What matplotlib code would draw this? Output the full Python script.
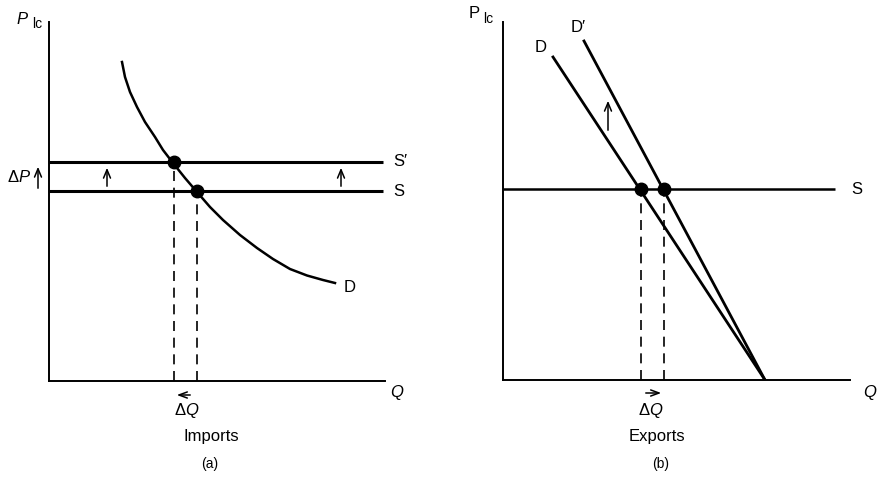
import matplotlib
matplotlib.use("Agg")
import matplotlib.pyplot as plt

plt.rcParams['font.family'] = ['Liberation Sans', 'DejaVu Sans']
plt.rcParams['mathtext.fontset'] = 'custom'
plt.rcParams['mathtext.rm'] = 'Liberation Sans'
plt.rcParams['mathtext.it'] = 'Liberation Sans:italic'

# panel (a): imports (Q right, P up)
a_supply_P = 190
a_supply2_P = 219
a_supply_Q = [0, 334]
a_dem_Q = [73, 76, 81, 88, 96, 106, 114, 124, 136, 148, 161, 174, 191, 208, 224, 241, 258, 274, 286]
a_dem_P = [319, 304, 289, 274, 259, 244, 231, 218, 203, 189, 174, 161, 146, 133, 122, 112, 105.5, 101, 98]
a_eq_Q = [125, 148]
a_eq_P = [219, 190]

# panel (b): exports
b_supply_P = 191
b_supply_Q = [0, 332]
b_D_Q = [50, 262]
b_D_P = [323, 0]
b_D2_Q = [81, 262]
b_D2_P = [339, 0]
b_eq_Q = [138, 161]
b_eq_P = [191, 191]

W, H = 878, 492
fig = plt.figure(figsize=(W / 100, H / 100), dpi=100)
axa = fig.add_axes([49 / W, (H - 381) / H, 336 / W, 359 / H])
axb = fig.add_axes([503 / W, (H - 380) / H, 347 / W, 358 / H])

for ax in (axa, axb):
    for s in ('top', 'right'):
        ax.spines[s].set_visible(False)
    for s in ('left', 'bottom'):
        ax.spines[s].set_linewidth(1.4)
    ax.set_xticks([])
    ax.set_yticks([])

axa.set_xlim(0, 336)
axa.set_ylim(0, 359)
axb.set_xlim(0, 347)
axb.set_ylim(0, 358)

up = dict(arrowstyle='->,head_length=0.6,head_width=0.25', lw=1.1, color='black')
side = dict(arrowstyle='->,head_length=0.6,head_width=0.22', lw=1.1, color='black')
fs = 12
txt = dict(fontsize=fs, ha='center', va='center', clip_on=False)

# ---- panel (a)
axa.plot(a_supply_Q, [a_supply2_P] * 2, color='black', lw=2.2, solid_capstyle='butt')
axa.plot(a_supply_Q, [a_supply_P] * 2, color='black', lw=2.2, solid_capstyle='butt')
axa.plot(a_dem_Q, a_dem_P, color='black', lw=1.8, solid_joinstyle='round')
for q, p in zip(a_eq_Q, a_eq_P):
    axa.plot([q, q], [0, p], color='black', lw=1.2, dashes=(6, 4))
axa.plot(a_eq_Q, a_eq_P, 'o', color='black', ms=9)
for q in (58, 292):
    axa.annotate('', xy=(q, 216), xytext=(q, 192), arrowprops=up)
axa.annotate('', xy=(-11, 217), xytext=(-11, 190), arrowprops=up, annotation_clip=False)
axa.text(-30, 204, r'$\Delta P$', **txt)
axa.annotate('', xy=(125, -14), xytext=(144, -14), arrowprops=side, annotation_clip=False)
axa.text(138, -29, r'$\Delta Q$', **txt)
axa.text(162, -55, 'Imports', **txt)
axa.text(161, -83, '(a)', fontsize=10, ha='center', va='center', clip_on=False)
axa.text(348, -11, r'$Q$', **txt)
axa.text(-27, 362, 'P', fontsize=fs, fontstyle='italic', ha='center', va='center', clip_on=False)
axa.text(-12, 357, 'lc', fontsize=10, ha='center', va='center', clip_on=False)
axa.text(344, 219, "S\u2032", fontsize=fs, ha='left', va='center', clip_on=False)
axa.text(344, 190, 'S', fontsize=fs, ha='left', va='center', clip_on=False)
axa.text(301, 93, 'D', **txt)

# ---- panel (b)
axb.plot(b_supply_Q, [b_supply_P] * 2, color='black', lw=1.8, solid_capstyle='butt')
axb.plot(b_D_Q, b_D_P, color='black', lw=2.0)
axb.plot(b_D2_Q, b_D2_P, color='black', lw=2.0)
for q, p in zip(b_eq_Q, b_eq_P):
    axb.plot([q, q], [0, p], color='black', lw=1.2, dashes=(6, 4))
axb.plot(b_eq_Q, b_eq_P, 'o', color='black', ms=9)
axb.annotate('', xy=(105, 282), xytext=(105, 247), arrowprops=up)
axb.annotate('', xy=(161, -13), xytext=(140, -13), arrowprops=side, annotation_clip=False)
axb.text(148, -30, r'$\Delta Q$', **txt)
axb.text(154, -56, 'Exports', **txt)
axb.text(158, -84, '(b)', fontsize=10, ha='center', va='center', clip_on=False)
axb.text(367, -12, r'$Q$', **txt)
axb.text(-29, 366, 'P', fontsize=fs, ha='center', va='center', clip_on=False)
axb.text(-15, 361, 'lc', fontsize=10, ha='center', va='center', clip_on=False)
axb.text(348, 191, 'S', fontsize=fs, ha='left', va='center', clip_on=False)
axb.text(38, 332, 'D', **txt)
axb.text(75, 352, "D\u2032", **txt)

fig.savefig('out.png', dpi=100, facecolor='white')
